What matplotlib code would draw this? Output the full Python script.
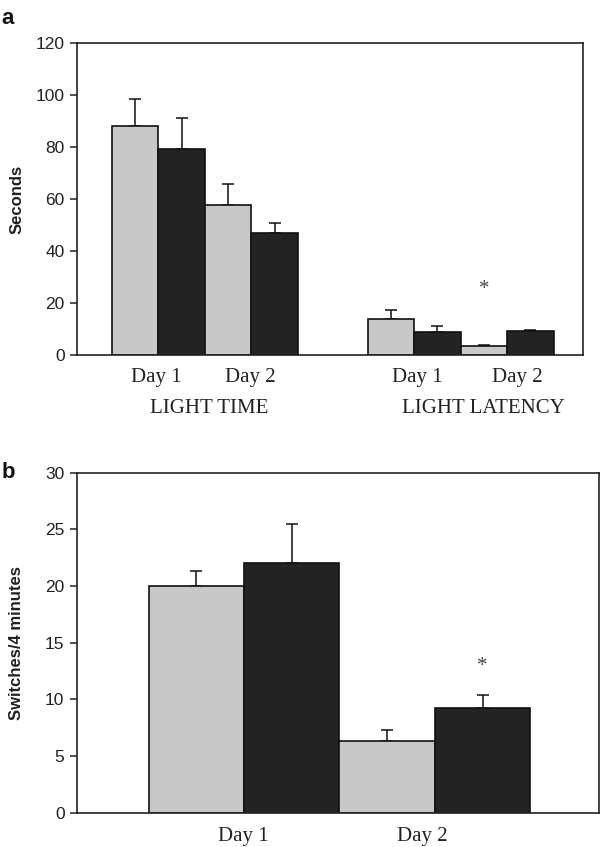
import matplotlib
matplotlib.use("Agg")
import matplotlib.pyplot as plt
import matplotlib.transforms as mtransforms

# ---- data ----
a_positions = [1.25, 2.25, 3.25, 4.25, 6.75, 7.75, 8.75, 9.75]
a_values = [88.2, 79.4, 57.6, 46.8, 14.0, 8.7, 3.3, 9.1]
a_errors = [10.1, 11.9, 8.2, 4.0, 3.2, 2.3, 0.7, 0.6]
a_colors = ["gray", "black", "gray", "black", "gray", "black", "gray", "black"]
a_day_labels = ["Day 1", "Day 2", "Day 1", "Day 2"]
a_day_pos = [1.70, 3.73, 7.32, 9.46]
a_group_labels = ["LIGHT TIME", "LIGHT LATENCY"]
a_group_pos = [2.84, 8.73]
a_yticks = [0, 20, 40, 60, 80, 100, 120]
a_star = (8.75, 25.0)

b_positions = [1.25, 2.25, 3.25, 4.25]
b_values = [20.0, 22.0, 6.3, 9.2]
b_errors = [1.3, 3.5, 1.0, 1.2]
b_colors = ["gray", "black", "gray", "black"]
b_day_labels = ["Day 1", "Day 2"]
b_day_pos = [1.74, 3.62]
b_yticks = [0, 5, 10, 15, 20, 25, 30]
b_star = (4.25, 12.9)

COL = {"gray": "#c8c8c8", "black": "#232323"}
SANS = ["Liberation Sans", "DejaVu Sans"]
SERIF = ["Liberation Serif", "DejaVu Serif"]

fig = plt.figure(figsize=(6.0, 8.47), dpi=100)
W, H = 600.0, 847.0


def make_axes(left, top, right, bottom):
    return fig.add_axes([left / W, 1 - bottom / H, (right - left) / W, (bottom - top) / H])


def style_axes(ax, yticks):
    for s in ax.spines.values():
        s.set_linewidth(1.2)
        s.set_color("#222222")
    ax.set_xticks([])
    ax.set_yticks(yticks)
    ax.tick_params(axis="y", direction="out", length=5, width=1.1, color="#222222",
                   labelsize=12.5, pad=4, labelcolor="#222222")
    for lab in ax.get_yticklabels():
        lab.set_family(SANS)


def draw_bars(ax, pos, vals, errs, cols):
    ax.bar(pos, vals, width=1.0, color=[COL[c] for c in cols],
           edgecolor="#111111", linewidth=1.2, zorder=2)
    ax.errorbar(pos, vals, yerr=[[0] * len(errs), errs], fmt="none",
                ecolor="#111111", elinewidth=1.1, capsize=4, capthick=1.1, zorder=1)


# ---- panel a ----
axa = make_axes(77, 43, 583, 355)
draw_bars(axa, a_positions, a_values, a_errors, a_colors)
axa.set_xlim(0, 10.88)
axa.set_ylim(0, 120)
style_axes(axa, a_yticks)
trans_a = mtransforms.blended_transform_factory(axa.transData, axa.transAxes)
for x, lab in zip(a_day_pos, a_day_labels):
    axa.text(x, -0.087, lab, transform=trans_a, ha="center", va="baseline",
             family=SERIF, fontsize=15, color="#222222")
for x, lab in zip(a_group_pos, a_group_labels):
    axa.text(x, -0.186, lab, transform=trans_a, ha="center", va="baseline",
             family=SERIF, fontsize=15, color="#222222")
axa.text(a_star[0], a_star[1], "*", ha="center", va="center", family=SERIF,
         fontsize=15, color="#444444")

# ---- panel b ----
axb = make_axes(77, 472.7, 599, 812.7)
draw_bars(axb, b_positions, b_values, b_errors, b_colors)
axb.set_xlim(0, 5.47)
axb.set_ylim(0, 30)
style_axes(axb, b_yticks)
trans_b = mtransforms.blended_transform_factory(axb.transData, axb.transAxes)
for x, lab in zip(b_day_pos, b_day_labels):
    axb.text(x, -0.082, lab, transform=trans_b, ha="center", va="baseline",
             family=SERIF, fontsize=15, color="#222222")
axb.text(b_star[0], b_star[1], "*", ha="center", va="center", family=SERIF,
         fontsize=15, color="#444444")

# ---- labels ----
fig.text(17 / W, 1 - 199 / H, "Seconds", rotation=90, ha="center", va="center",
         family=SANS, fontweight="bold", fontsize=12, color="#222222")
fig.text(17 / W, 1 - 643 / H, "Switches/4 minutes", rotation=90, ha="center", va="center",
         family=SANS, fontweight="bold", fontsize=12, color="#222222")
fig.text(8 / W, 1 - 18 / H, "a", ha="center", va="center", family=SANS,
         fontweight="bold", fontsize=16, color="#111111")
fig.text(8 / W, 1 - 472 / H, "b", ha="center", va="center", family=SANS,
         fontweight="bold", fontsize=16, color="#111111")

fig.savefig("out.png", dpi=100)
